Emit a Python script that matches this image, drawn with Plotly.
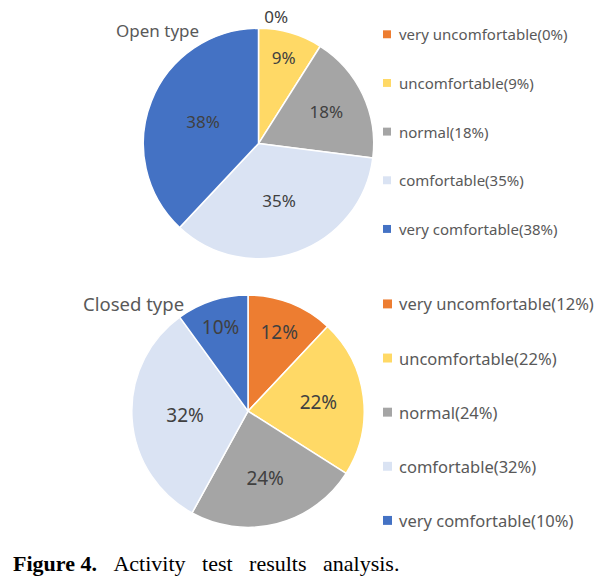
import plotly.graph_objects as go

categories = ["very uncomfortable", "uncomfortable", "normal", "comfortable", "very comfortable"]
open_values = [0, 9, 18, 35, 38]
closed_values = [12, 22, 24, 32, 10]
colors = ["#ED7D31", "#FFD966", "#A5A5A5", "#DAE3F3", "#4472C4"]
titles = ["Open type", "Closed type"]
caption_bold = "Figure 4."
caption_words = ["Activity", "test", "results", "analysis."]
caption_gaps = [3, 3, 3, 2]

W, H = 611, 580


def py(y):
    return 1 - y / H


def px(x):
    return x / W


fig = go.Figure()

pies = [
    dict(values=open_values, cx=258.5, cy=140.5, r=116, title=titles[0], tx=114, ty=26.5,
         tfont=17, ly0=30.5, gap=49, lfont=15, pfont=17, sq=8),
    dict(values=closed_values, cx=248, cy=410, r=117, title=titles[1], tx=81, ty=302,
         tfont=18.5, ly0=302, gap=54.5, lfont=16.5, pfont=19, sq=9),
]

for p in pies:
    vals = p["values"]
    tpos = ["outside" if v == 0 else "inside" for v in vals]
    fig.add_trace(go.Pie(
        labels=categories, values=vals, sort=False, direction="clockwise", rotation=0,
        marker=dict(colors=colors, line=dict(color="white", width=1.5)),
        texttemplate="%{value}%", textposition=tpos,
        insidetextfont=dict(size=p["pfont"], color="#404040", family="Noto Sans"),
        outsidetextfont=dict(size=p["pfont"], color="#404040", family="Noto Sans"),
        showlegend=False, hoverinfo="label+value",
        domain=dict(x=[px(p["cx"] - p["r"]), px(p["cx"] + p["r"])],
                    y=[py(p["cy"] + p["r"]), py(p["cy"] - p["r"])]),
    ))
    fig.add_annotation(text=p["title"], x=px(p["tx"]), y=py(p["ty"]), xref="paper", yref="paper",
                       xanchor="left", yanchor="middle", showarrow=False,
                       font=dict(size=p["tfont"], color="#595959", family="Noto Sans"))
    for i, (c, v) in enumerate(zip(categories, vals)):
        yy = p["ly0"] + i * p["gap"]
        h = p["sq"] / 2
        fig.add_shape(type="rect", xref="paper", yref="paper",
                      x0=px(383), x1=px(383 + p["sq"]), y0=py(yy - h), y1=py(yy + h),
                      fillcolor=colors[i], line=dict(width=0))
        fig.add_annotation(text=f"{c}({v}%)", x=px(397), y=py(yy), xref="paper", yref="paper",
                           xanchor="left", yanchor="middle", showarrow=False,
                           font=dict(size=p["lfont"], color="#595959", family="Noto Sans"))

cap = f"<b>{caption_bold}</b>" + "\u00a0" * 3
for w, g in zip(caption_words, caption_gaps + [0]):
    pass
parts = []
for i, w in enumerate(caption_words):
    parts.append(w)
    if i < len(caption_gaps):
        parts.append("\u00a0" * caption_gaps[i])
cap += "".join(parts)
fig.add_annotation(text=cap, x=px(11), y=py(563),
                   xref="paper", yref="paper", xanchor="left", yanchor="middle", showarrow=False,
                   font=dict(size=22, color="#000000", family="Liberation Serif"))

fig.update_layout(width=W, height=H, margin=dict(l=0, r=0, t=0, b=0),
                  paper_bgcolor="white", plot_bgcolor="white")
fig.write_html(
    "out.html",
    config={"displayModeBar": False},
    post_script="document.documentElement.style.margin='0';document.body.style.margin='0';"
                "document.body.style.padding='0';document.body.style.overflow='hidden';",
)
